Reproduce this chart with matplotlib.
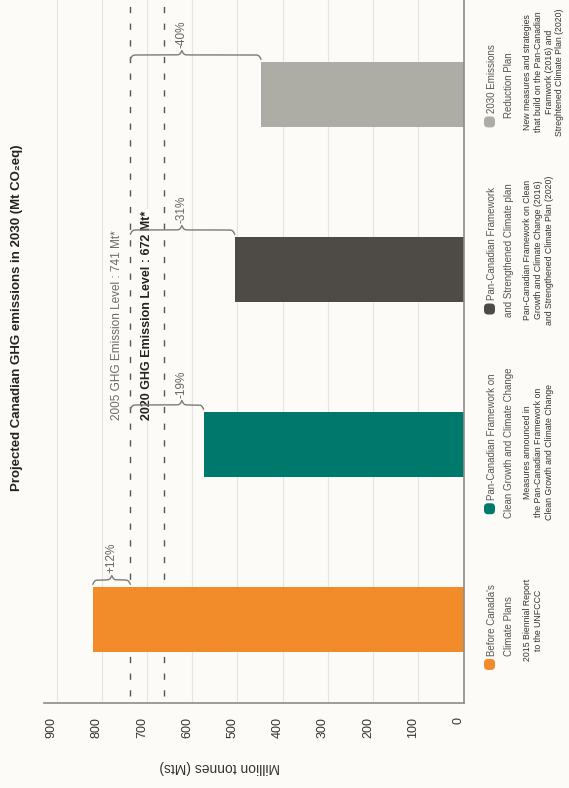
import numpy as np
import matplotlib.pyplot as plt
from matplotlib import transforms
from matplotlib.patches import FancyBboxPatch

# data
values = [820, 575, 506, 448]
colors = ['#F28C2B', '#00796D', '#4E4B47', '#AEADA5']
level_2005 = 737
level_2020 = 663
pct_labels = ['+12%', '-19%', '-31%', '-40%']
brace_tips = [778, 623, 623, 623]
ticks = [0, 100, 200, 300, 400, 500, 600, 700, 800, 900]
legend_titles = [
    ["Before Canada's", "Climate Plans"],
    ["Pan-Canadian Framework on", "Clean Growth and Climate Change"],
    ["Pan-Canadian Framework", "and Strengthened Climate plan"],
    ["2030 Emissions", "Reduction Plan"],
]
legend_notes = [
    "2015 Biennial Report\nto the UNFCCC",
    "Measures announced in\nthe Pan-Canadian Framework on\nClean Growth and Climate Change",
    "Pan-Canadian Framework on Clean\nGrowth and Climate Change (2016)\nand Strengthened Climate Plan (2020)",
    "New measures and strategies\nthat build on the Pan-Canadian\nFramwork (2016) and\nStreghtened Climate Plan (2020)",
]
# legend block centres, in pixels from the top
legend_title_y = [626, 443, 250, 85]
legend_note_y = [620, 452, 250, 72]

BG = '#FCFBF8'
plt.rcParams['font.family'] = ['Liberation Sans', 'DejaVu Sans']

W, H = 569, 788
fig = plt.figure(figsize=(W / 100, H / 100), dpi=100, facecolor=BG)
ax = fig.add_axes([44 / W, 85 / H, 419.5 / W, 703 / H])
ax.set_facecolor(BG)

pos = np.arange(len(values))
ax.barh(pos, values, height=0.37, color=colors, zorder=2)
ax.set_xlim(928, 0)
ax.set_ylim(-0.477, 3.54)

ax.set_xticks(ticks)
ax.xaxis.grid(True, color='#E4E4E2', lw=0.8, zorder=0)
ax.set_axisbelow(True)
ax.set_yticks([])
for s in ['top', 'left']:
    ax.spines[s].set_visible(False)
for s in ['right', 'bottom']:
    ax.spines[s].set_color('#8C8C8C')
    ax.spines[s].set_linewidth(1.2)
ax.tick_params(axis='x', length=0, pad=10, labelsize=9, labelcolor='#333333', labelrotation=90)
shift = transforms.ScaledTranslation(-5 / 100, 0, fig.dpi_scale_trans)
for lab in ax.get_xticklabels():
    lab.set_transform(lab.get_transform() + shift)

ax.set_xlabel('Million tonnes (Mts)', rotation=180, fontsize=10, color='#333333')
ax.xaxis.set_label_coords((220 - 44) / 419.5, -64 / 703)
ax.xaxis.label.set_va('center')

# reference levels
dash = (0, (4.5, 7.5))
for lvl in [level_2005, level_2020]:
    ax.axvline(lvl, ymin=0.01, ymax=1, color='#555555', lw=1, ls=dash, zorder=1)
ax.text(767, 1.14, '2005 GHG Emission Level : 741 Mt*', rotation=90, ha='center', va='bottom',
        color='#6A6A6A', fontsize=8.5)
ax.text(701, 1.14, '2020 GHG Emission Level : 672 Mt*', rotation=90, ha='center', va='bottom',
        color='#222222', fontsize=9, fontweight='bold',
        bbox=dict(facecolor=BG, edgecolor='none', pad=1))


def brace(x0, x1, xtip, y, h, beta=0.45):
    # curly brace lying along x, tip pointing to larger y
    xa = np.linspace(x0, xtip, 200)
    ya = 1 / (1 + np.exp(-beta * np.abs(xa - x0))) + 1 / (1 + np.exp(beta * np.abs(xtip - xa)))
    xb = np.linspace(xtip, x1, 200)
    yb = 1 / (1 + np.exp(-beta * np.abs(x1 - xb))) + 1 / (1 + np.exp(beta * np.abs(xb - xtip)))
    xs = np.concatenate([xa, xb])
    ys = np.concatenate([ya, yb])
    ax.plot(xs, y + h * (ys - 1), color='#7A7A7A', lw=1, zorder=3, solid_capstyle='round')


for i, v in enumerate(values):
    base = i + 0.226
    brace(level_2005, v, brace_tips[i], base, 0.05)
    ax.text(brace_tips[i], base + 0.04, pct_labels[i], rotation=90, ha='center', va='bottom',
            color='#666666', fontsize=8.5)

# title
fig.text(17 / W, 1 - 318 / H, 'Projected Canadian GHG emissions in 2030 (Mt CO\u2082eq)',
         rotation=90, ha='center', va='center', fontsize=9.5, fontweight='bold', color='#222222')

# legend
title_txt = []
for i in range(len(values)):
    ty = 1 - legend_title_y[i] / H
    t1 = fig.text(492 / W, ty + 6 / H, legend_titles[i][0], rotation=90, ha='center', va='center',
                  fontsize=7, color='#555555')
    fig.text(509 / W, ty, legend_titles[i][1], rotation=90, ha='center', va='center',
             fontsize=7, color='#555555')
    fig.text(523 / W, 1 - legend_note_y[i] / H, legend_notes[i], rotation=90, ha='left', va='center',
             multialignment='center', fontsize=6.3, color='#333333', linespacing=1.25)
    title_txt.append(t1)

fig.canvas.draw()
r = fig.canvas.get_renderer()
for i, t in enumerate(title_txt):
    bb = t.get_window_extent(r)
    m = FancyBboxPatch((484, bb.y0 - 14), 11, 11, boxstyle='round,pad=0,rounding_size=4',
                       transform=transforms.IdentityTransform(), facecolor=colors[i], edgecolor='none')
    fig.add_artist(m)

fig.savefig('out.png', dpi=100, facecolor=BG)
